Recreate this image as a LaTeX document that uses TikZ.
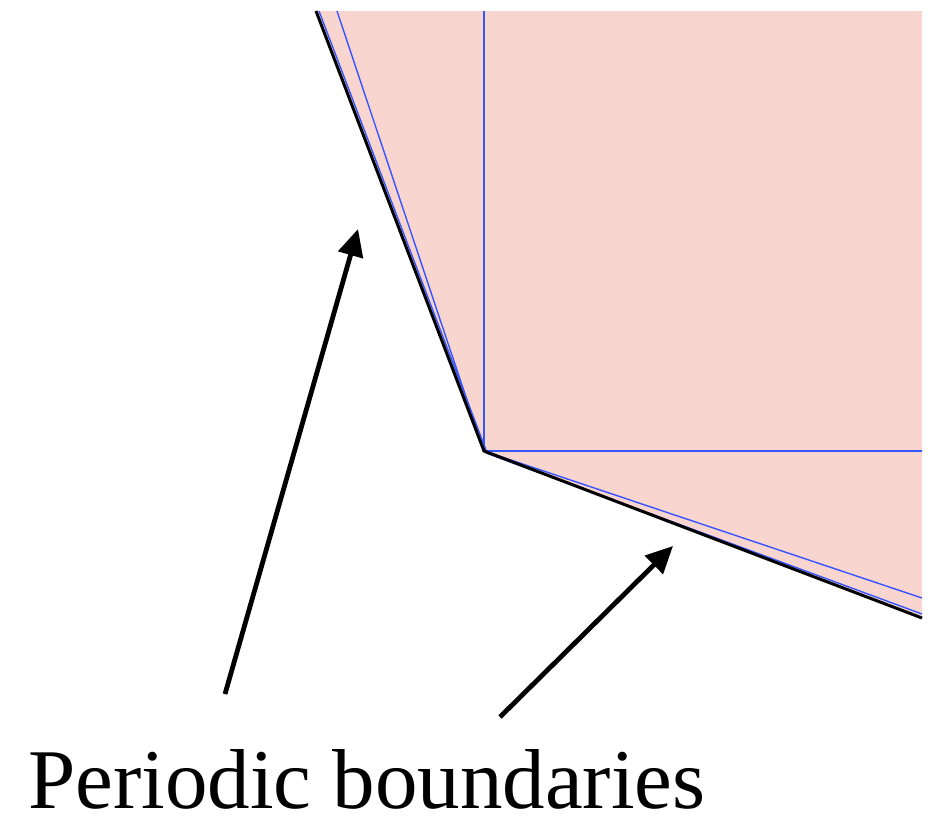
\documentclass[tikz,border=0pt]{standalone}
\usepackage{fontspec}
\setmainfont{Liberation Serif}
\usetikzlibrary{arrows.meta}
\definecolor{cellpink}{RGB}{249,213,208}
\definecolor{edgeblue}{RGB}{55,85,255}
\tikzset{
  blueline/.style={draw=edgeblue, line width=1.4pt},
  boundary/.style={draw=black, line width=3pt, line join=miter},
  pointer/.style={draw=black, line width=4.8pt, -{Triangle[length=27pt,width=25pt]}},
}
\begin{document}
\begin{tikzpicture}[x=1pt,y=-1pt]
\useasboundingbox (0,0) rectangle (938,817);
% coordinates
\coordinate (tl) at (316,11);
\coordinate (tr) at (922,11);
\coordinate (br) at (922,618);
\coordinate (c) at (484,451);
\coordinate (vt) at (484,11);
\coordinate (hr) at (922,451);
\coordinate (b2t) at (337,11);
\coordinate (b1t) at (319,11);
\coordinate (b1c) at (486,450);
\coordinate (b3r) at (922,598);
\coordinate (b4c) at (486,453);
\coordinate (b4r) at (922,614);
% fill
\fill[cellpink] (tl) -- (tr) -- (br) -- (c) -- cycle;
% blue lines
\draw[blueline] (b1t) -- (b1c);
\draw[blueline] (b2t) -- (c);
\draw[blueline] (vt) -- (c);
\draw[blueline] (c) -- (hr);
\draw[blueline] (c) -- (b3r);
\draw[blueline] (b4c) -- (b4r);
% black boundary
\draw[boundary] (tl) -- (c) -- (br);
% label
\node[anchor=base west, inner sep=0pt, text depth=0pt, font=\fontsize{85}{90}\selectfont] (lab) at (28,808) {Periodic boundaries};
% arrows
\coordinate (a1s) at (225,694);
\coordinate (a1e) at (358,229);
\coordinate (a2s) at (500,717);
\coordinate (a2e) at (673,546);
\draw[pointer] (a1s) -- (a1e);
\draw[pointer] (a2s) -- (a2e);
\end{tikzpicture}
\end{document}
